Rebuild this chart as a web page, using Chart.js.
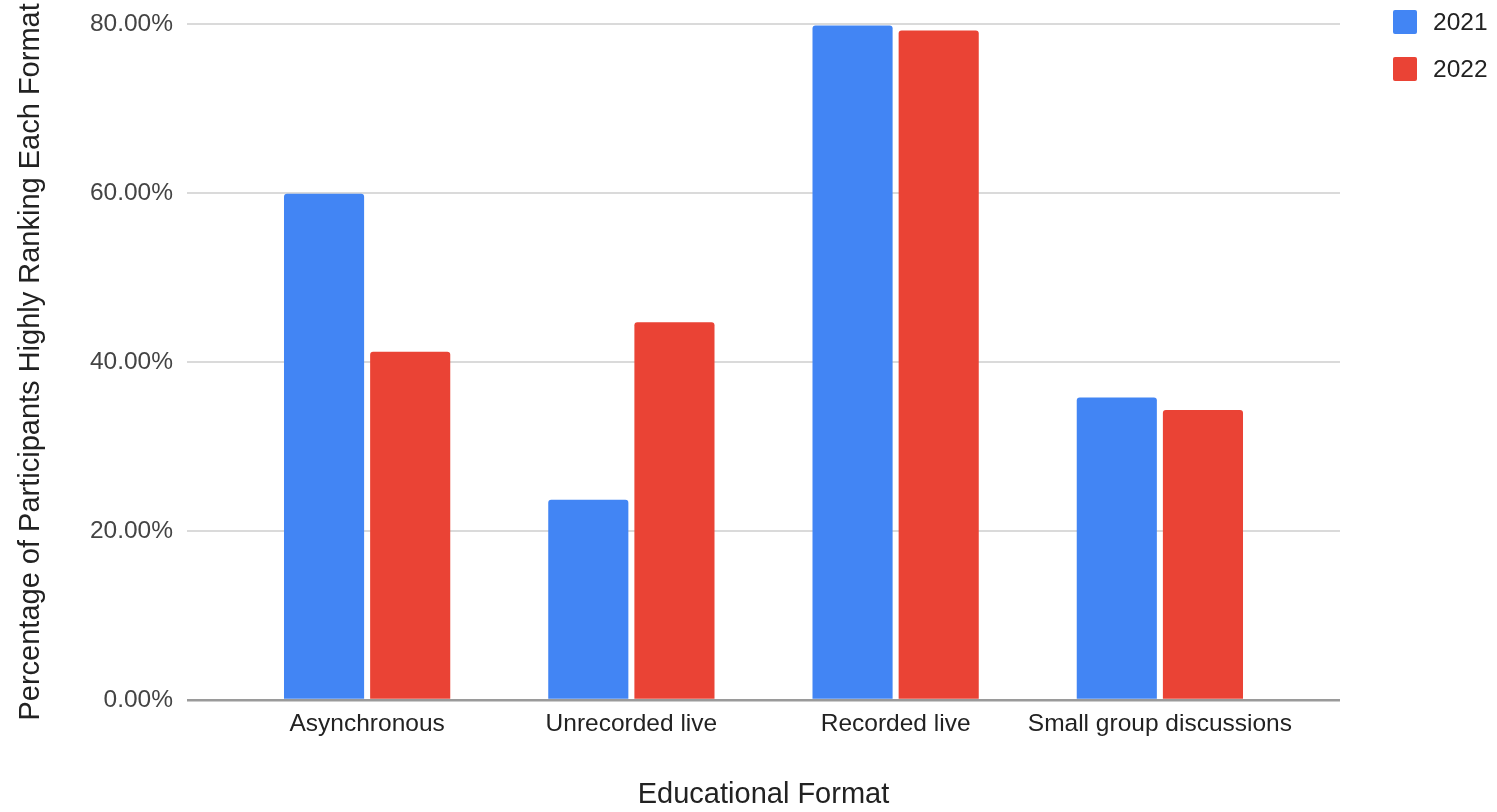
<!DOCTYPE html>
<html>
<head>
<meta charset="utf-8">
<title>Educational Format</title>
<script src="https://cdn.jsdelivr.net/npm/chart.js@4.4.1/dist/chart.umd.min.js"></script>
<style>
  body { margin: 0; background: #fff; }
  #wrap { position: relative; width: 1497px; height: 812px; }
  #legend {
    position: absolute; left: 1393px; top: 10px;
    font-family: 'Liberation Sans', Arial, sans-serif; font-size: 24.5px; color: #222;
  }
  #legend .item { display: flex; align-items: center; height: 24px; margin-bottom: 23px; }
  #legend .swatch { width: 24px; height: 24px; border-radius: 2px; margin-right: 16px; }
</style>
</head>
<body>
<div id="wrap">
  <canvas id="myChart"></canvas>
  <div id="legend"></div>
</div>
<script>
document.addEventListener('DOMContentLoaded', function() {
  const formats = ['Asynchronous', 'Unrecorded live', 'Recorded live', 'Small group discussions'];
  const years = ['2021', '2022'];
  const share2021 = [59.9, 23.7, 79.8, 35.8];
  const share2022 = [41.2, 44.7, 79.2, 34.3];
  const yTicks = [0, 20, 40, 60, 80];

  const FONT = "'Liberation Sans', Arial, sans-serif";

  // grid colour/width: zero line darker
  const gridColor = (c) => c.tick && c.tick.value === 0 ? '#9a9a9a' : '#dadada';
  const gridWidth = (c) => c.tick && c.tick.value === 0 ? 2.5 : 2;

  const setTicks = (scale) => { scale.ticks = yTicks.map(v => ({ value: v })); };

  const chart = new Chart(document.getElementById('myChart'), {
    type: 'bar',
    data: {
      labels: formats,
      datasets: [{
        label: years[0],
        data: share2021,
        backgroundColor: '#4285f4',
        borderRadius: 3,
        yAxisID: 'y'
      }, {
        label: years[1],
        data: share2022,
        backgroundColor: '#ea4335',
        borderRadius: 3,
        yAxisID: 'y'
      }]
    },
    options: {
      responsive: true,
      maintainAspectRatio: false,
      animation: false,
      datasets: {
        bar: { categoryPercentage: 0.652, barPercentage: 0.93 }
      },
      layout: { padding: { left: 0, top: 23, right: 157, bottom: 0 } },
      plugins: {
        legend: { display: false },
        tooltip: { enabled: false }
      },
      scales: {
        x: {
          offset: true,
          grid: { display: false, drawTicks: false },
          border: { display: false },
          ticks: {
            padding: 10,
            color: '#222',
            font: { family: FONT, size: 24.5 },
            maxRotation: 0,
            autoSkip: false
          },
          title: {
            display: true,
            text: 'Educational Format',
            color: '#222',
            font: { family: FONT, size: 29 },
            padding: { top: 0, bottom: 0 }
          },
          afterFit: (s) => { s.height = 112; }
        },
        y: {
          min: 0,
          max: 80,
          afterBuildTicks: setTicks,
          grid: { color: gridColor, lineWidth: gridWidth, drawTicks: true, tickLength: 48 },
          border: { display: false },
          ticks: {
            padding: 14,
            color: '#444',
            font: { family: FONT, size: 24.5, lineHeight: 0.8 },
            callback: (v) => v.toFixed(2) + '%'
          },
          title: {
            display: true,
            text: 'Percentage of Participants Highly Ranking Each Format',
            color: '#222',
            font: { family: FONT, size: 29 },
            padding: { top: 14, bottom: 0 }
          },
          afterFit: (s) => { s.width = 235; }
        },
        yRight: {
          position: 'right',
          min: 0,
          max: 80,
          afterBuildTicks: setTicks,
          grid: { color: gridColor, lineWidth: gridWidth, drawOnChartArea: false, drawTicks: true, tickLength: 48 },
          border: { display: false },
          ticks: { display: false },
          afterFit: (s) => { s.width = 48; }
        }
      }
    }
  });

  // legend built from the chart datasets
  const legend = document.getElementById('legend');
  chart.data.datasets.forEach((ds) => {
    const row = document.createElement('div');
    row.className = 'item';
    const sw = document.createElement('span');
    sw.className = 'swatch';
    sw.style.background = ds.backgroundColor;
    const txt = document.createElement('span');
    txt.textContent = ds.label;
    row.appendChild(sw);
    row.appendChild(txt);
    legend.appendChild(row);
  });
});
</script>
</body>
</html>
